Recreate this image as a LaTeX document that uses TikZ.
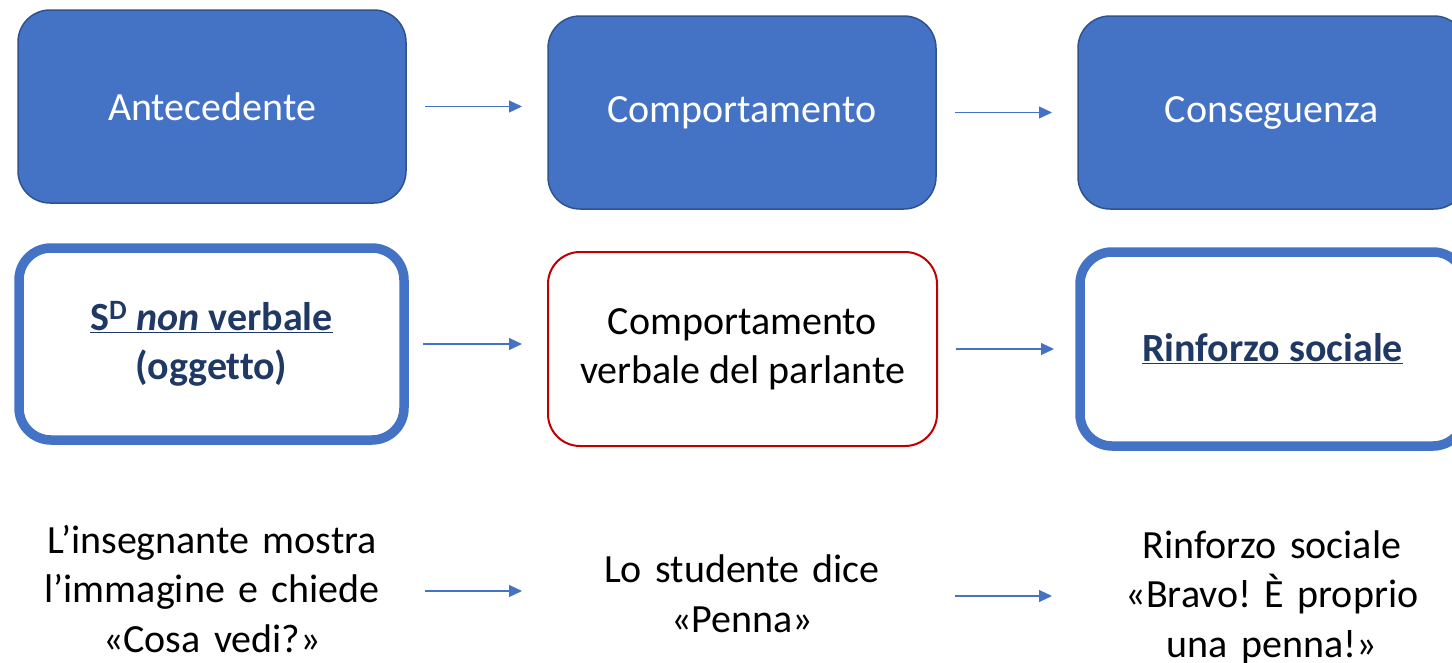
\documentclass[tikz,border=0pt]{standalone}
\usepackage{fontspec}
\setmainfont{Carlito}[Ligatures=NoCommon]
\frenchspacing
\usetikzlibrary{arrows.meta,positioning}
\definecolor{blu}{HTML}{4472C4}
\definecolor{bluedge}{HTML}{2F528F}
\definecolor{navy}{HTML}{1F3864}
\definecolor{rosso}{HTML}{C00000}
\tikzset{
  base/.style={rounded corners=32pt,minimum width=388pt,minimum height=193pt,align=center,
    inner sep=0pt,outer sep=0pt,font=\fontsize{40}{49}\selectfont},
  headbox/.style={base,fill=blu,draw=bluedge,line width=1.5pt,text=white},
  keybox/.style={base,draw=blu,line width=9.5pt,text=navy,font=\fontsize{40}{49}\selectfont\bfseries},
  actbox/.style={base,draw=rosso,line width=2pt},
  note/.style={text width=388pt,align=center,inner sep=0pt,outer sep=0pt,font=\fontsize{40}{49.5}\selectfont},
  flow/.style={draw=blu,line width=1.2pt,-{Triangle[length=13pt,width=12pt]},shorten <=19pt,shorten >=26pt}
}
\begin{document}
\begin{tikzpicture}[x=1pt,y=-1pt]
\useasboundingbox (0,0) rectangle (1452,662);
\clip (0,0) rectangle (1452,662);
% top row
\node[headbox] (ante) at (212,106.5) {Antecedente};
\node[headbox] (comp) at (742,112.5) {Comportamento};
\node[headbox] (cons) at (1272,112.5) {Conseguenza};
% middle row
\node[keybox,minimum width=385pt,minimum height=192pt] (sd) at (211.5,344)
  {\underline{S\raisebox{2pt}{\textsuperscript{D}} \textit{non} verbale}\\(oggetto)};
\node[actbox,minimum width=389pt,minimum height=194pt] (verb) at (742.5,349)
  {Comportamento\\verbale del parlante};
\node[keybox,minimum width=385pt,minimum height=194pt] (rinf) at (1272.5,349)
  {\underline{Rinforzo sociale}};
% bottom row
\node[note] (mostra) at (212,589) {L’insegnante mostra\\l’immagine e chiede\\«Cosa vedi?»};
\node[note] (dice) at (742,594) {Lo studente dice\\«Penna»};
\node[note] (bravo) at (1272,597) {Rinforzo sociale\\«Bravo! È proprio\\una penna!»};
% arrows
\draw[flow] (ante.east) -- (ante.east -| comp.west);
\draw[flow] (comp.east) -- (comp.east -| cons.west);
\draw[flow] (sd.east) -- (sd.east -| verb.west);
\draw[flow] (verb.east) -- (verb.east -| rinf.west);
\draw[flow] ([yshift=-2pt]mostra.east) -- ([yshift=-2pt]mostra.east -| dice.west);
\draw[flow] ([yshift=-2pt]dice.east) -- ([yshift=-2pt]dice.east -| bravo.west);
\end{tikzpicture}
\end{document}
